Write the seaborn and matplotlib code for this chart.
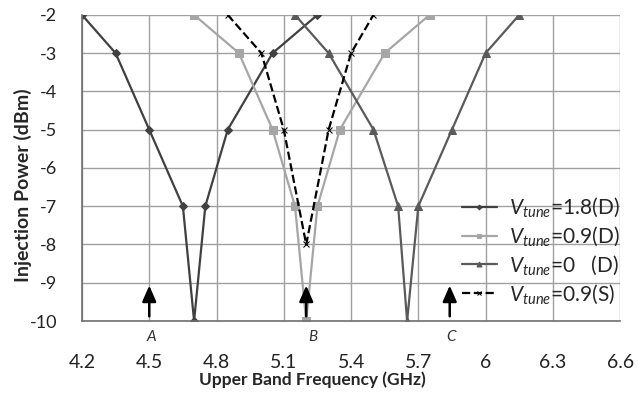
import seaborn as sns
import matplotlib.pyplot as plt
import pandas as pd

# data (GHz vs dBm)
freq_18d = [4.2, 4.35, 4.5, 4.65, 4.7, 4.75, 4.85, 5.05, 5.25]
pow_18d = [-2, -3, -5, -7, -10, -7, -5, -3, -2]

freq_09d = [4.7, 4.9, 5.05, 5.15, 5.2, 5.25, 5.35, 5.55, 5.75]
pow_09d = [-2, -3, -5, -7, -10, -7, -5, -3, -2]

freq_0d = [5.15, 5.3, 5.5, 5.61, 5.65, 5.7, 5.85, 6.0, 6.15]
pow_0d = [-2, -3, -5, -7, -10, -7, -5, -3, -2]

freq_09s = [4.85, 5.0, 5.1, 5.2, 5.3, 5.4, 5.5]
pow_09s = [-2, -3, -5, -8, -5, -3, -2]

arrow_x = [4.5, 5.2, 5.84]
arrow_labels = ["A", "B", "C"]
label_x = [4.51, 5.23, 5.845]

sns.set_theme(style="whitegrid")
plt.rcParams['font.family'] = ['Lato', 'DejaVu Sans']
plt.rcParams['axes.unicode_minus'] = False
plt.rcParams['mathtext.fontset'] = 'custom'
plt.rcParams['mathtext.rm'] = 'Lato'
plt.rcParams['mathtext.it'] = 'Lato:italic'

fig = plt.figure(figsize=(6.38, 3.95), dpi=100)
ax = fig.add_axes([0.1285, 0.1873, 0.8435, 0.775])

series = [
    (freq_18d, pow_18d, r"$V_{tune}$=1.8(D)", "#404040", "D", "-", 4),
    (freq_09d, pow_09d, r"$V_{tune}$=0.9(D)", "#a6a6a6", "s", "-", 6),
    (freq_0d, pow_0d, r"$V_{tune}$=0   (D)", "#5a5a5a", "^", "-", 6),
    (freq_09s, pow_09s, r"$V_{tune}$=0.9(S)", "#000000", "x", "--", 5),
]
for fx, py, lab, col, mk, ls, ms in series:
    df = pd.DataFrame({"f": fx, "p": py})
    sns.lineplot(data=df, x="f", y="p", sort=False, estimator=None, ax=ax,
                 color=col, marker=mk, linestyle=ls, markersize=ms,
                 markeredgecolor=col, linewidth=1.6, label=lab)

for xa in arrow_x:
    ax.annotate("", xy=(xa, -9.0), xytext=(xa, -9.95),
                arrowprops=dict(arrowstyle="-|>,head_width=0.35,head_length=0.8",
                                color="black", lw=1.8))
for xl, la in zip(label_x, arrow_labels):
    ax.text(xl, -10.42, la, ha="center", va="center", fontsize=11,
            style="italic", color="#333333")

ax.set_xlim(4.2, 6.6)
ax.set_ylim(-10, -2)
ax.set_xticks([4.2, 4.5, 4.8, 5.1, 5.4, 5.7, 6.0, 6.3, 6.6])
ax.set_xticklabels(["4.2", "4.5", "4.8", "5.1", "5.4", "5.7", "6", "6.3", "6.6"])
ax.set_yticks(range(-10, -1))
ax.tick_params(axis="x", labelsize=14, pad=24, length=0, colors="#222222")
ax.tick_params(axis="y", labelsize=13, pad=18, length=0, colors="#222222")
ax.set_xlabel("Upper Band Frequency (GHz)", fontsize=12.5, fontweight="bold")
ax.xaxis.set_label_coords(0.4275, -0.165)
ax.set_ylabel("Injection Power (dBm)", fontsize=14, fontweight="bold")
ax.yaxis.set_label_coords(-0.093, 0.444)
ax.grid(True, color="#a0a0a0", linewidth=1)
for s in ["top", "right"]:
    ax.spines[s].set_visible(False)
for s in ["left", "bottom"]:
    ax.spines[s].set_color("#707070")
    ax.spines[s].set_linewidth(1.2)

ax.legend(loc="lower right", bbox_to_anchor=(1.0, 0.05), frameon=False,
          fontsize=15, handlelength=1.7, labelspacing=0.25, handletextpad=0.6,
          borderpad=0.0, borderaxespad=0.0, markerscale=0.6)

fig.savefig("out.png", dpi=100)
